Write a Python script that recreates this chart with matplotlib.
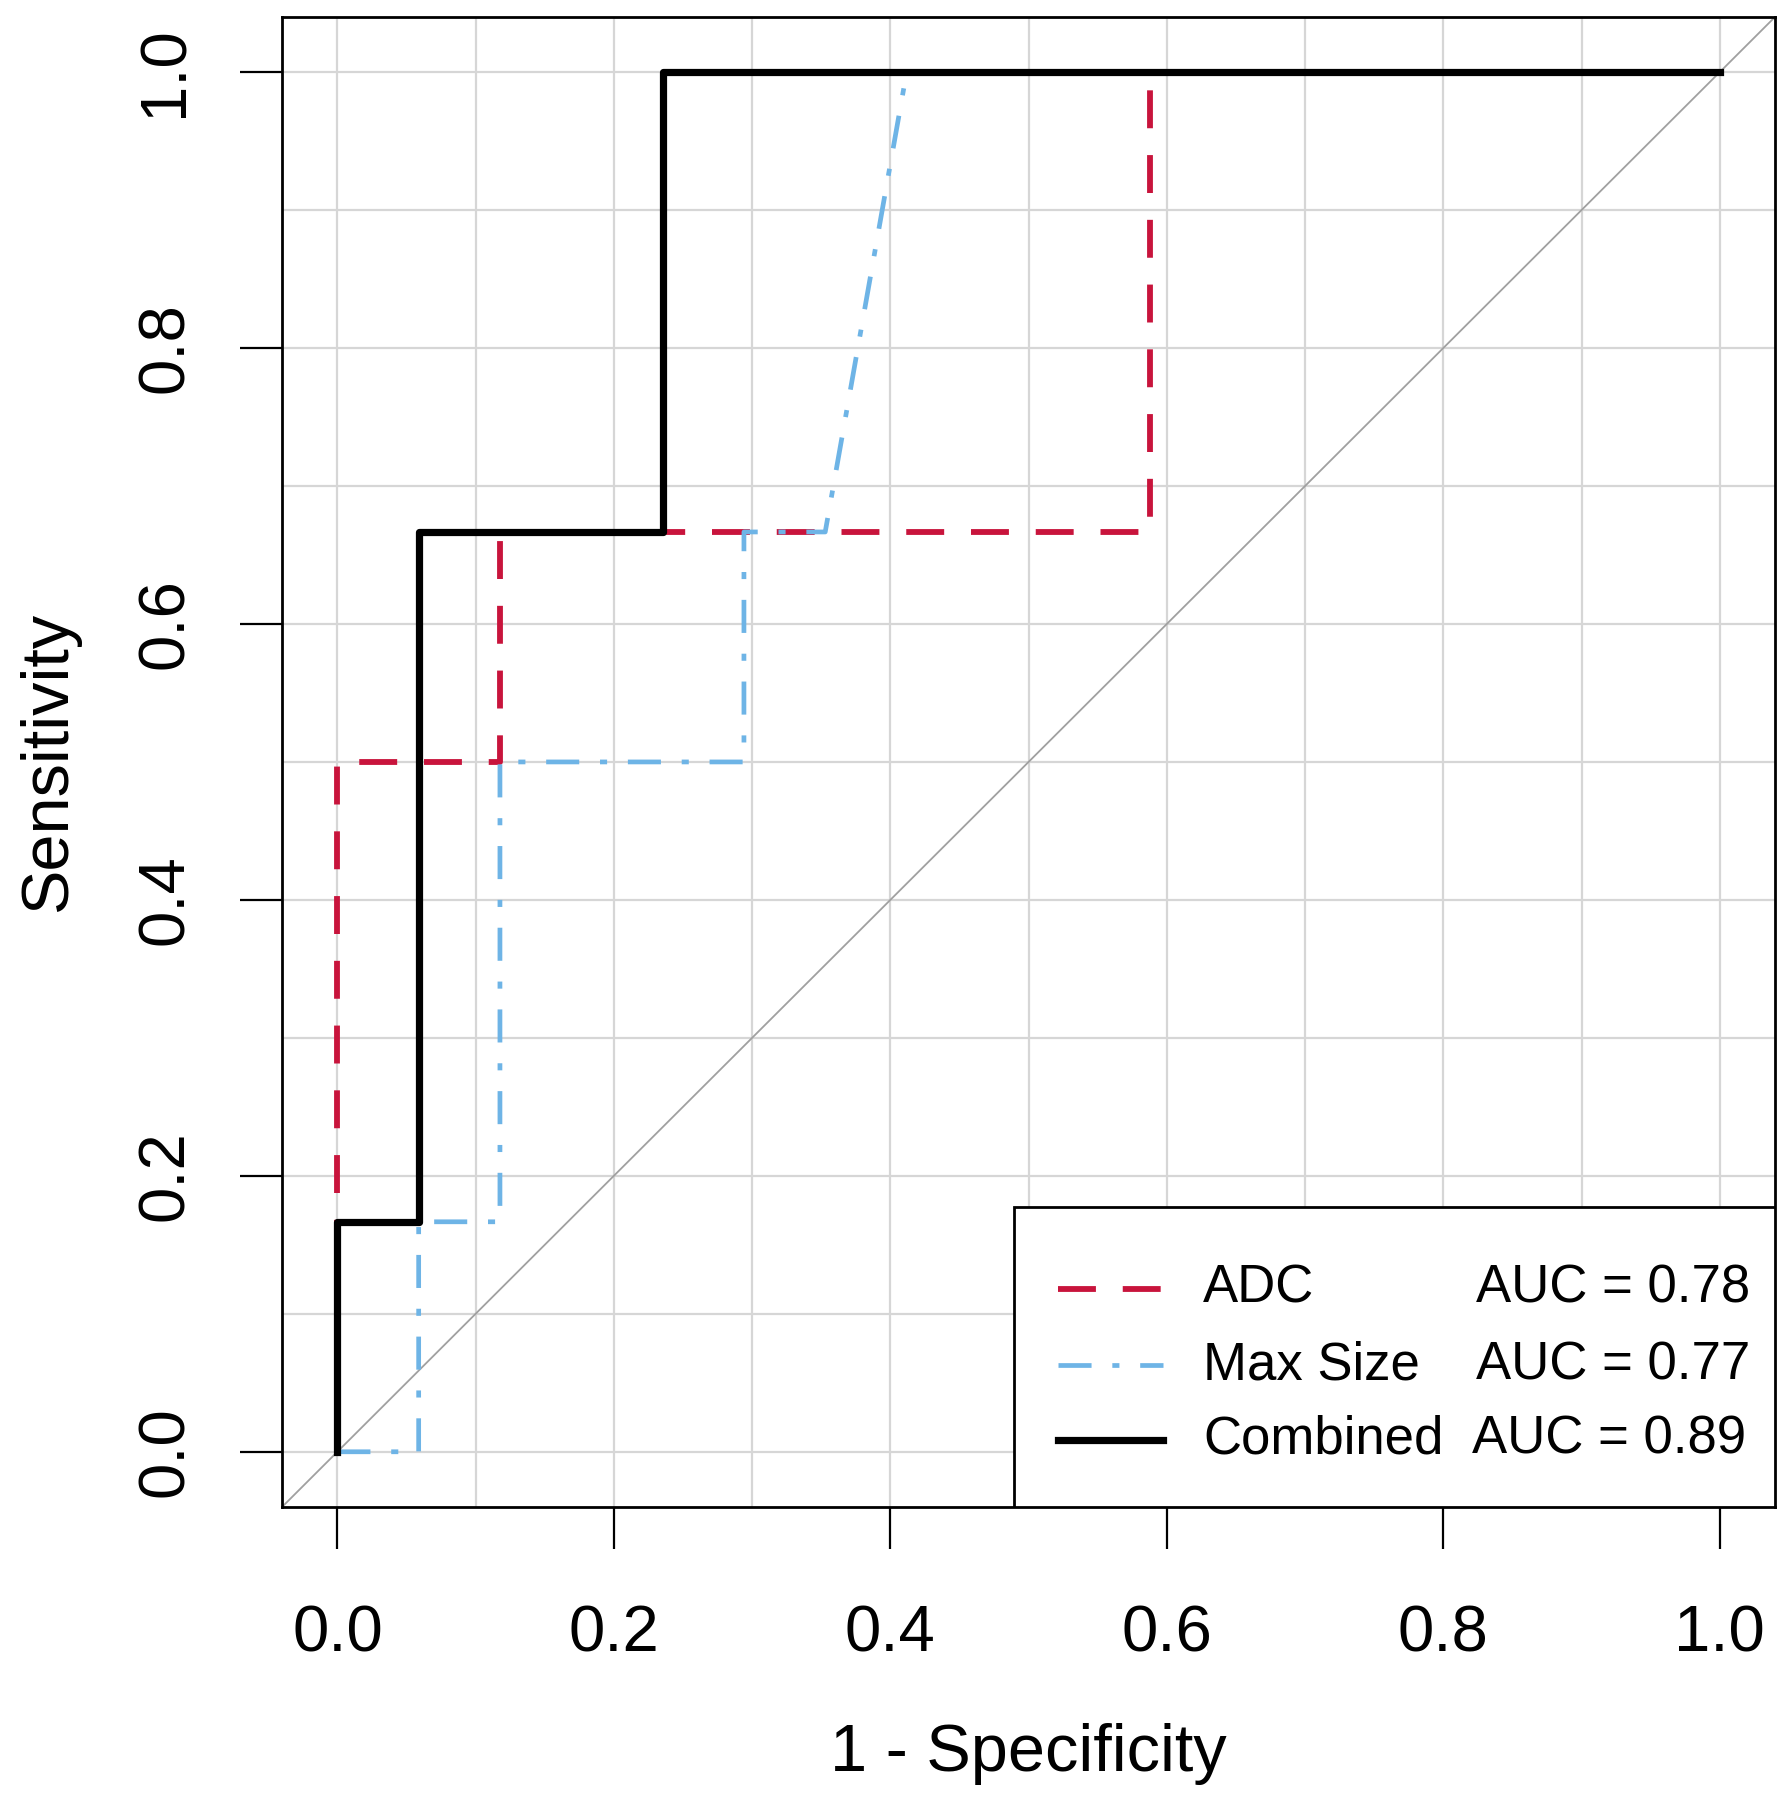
import matplotlib
matplotlib.use("Agg")
import matplotlib.pyplot as plt
from matplotlib.lines import Line2D
from matplotlib.patches import Rectangle

plt.rcParams['font.family'] = ['Liberation Sans', 'DejaVu Sans']

# ROC curves (x = 1 - specificity, y = sensitivity)
adc_fpr = [0.0, 0.0, 0.1176, 0.1176, 0.5882, 0.5882, 1.0]
adc_tpr = [0.0, 0.5, 0.5, 0.6667, 0.6667, 1.0, 1.0]

size_fpr = [0.0, 0.0588, 0.0588, 0.1176, 0.1176, 0.2941, 0.2941, 0.3529, 0.4118, 1.0]
size_tpr = [0.0, 0.0, 0.1667, 0.1667, 0.5, 0.5, 0.6667, 0.6667, 1.0, 1.0]

comb_fpr = [0.0, 0.0, 0.0588, 0.0588, 0.2353, 0.2353, 1.0]
comb_tpr = [0.0, 0.1667, 0.1667, 0.6667, 0.6667, 1.0, 1.0]

names = ["ADC", "Max Size", "Combined"]
aucs = [0.78, 0.77, 0.89]
colors = ["#C8143C", "#6EB4E6", "black"]

ticks = [0.0, 0.2, 0.4, 0.6, 0.8, 1.0]
grid_ticks = [i / 10 for i in range(11)]

fig = plt.figure(figsize=(17.91, 18.0), dpi=100)
ax = fig.add_axes([0.1575, 0.1628, 0.8336, 0.8278])
ax.set_xlim(-0.04, 1.04)
ax.set_ylim(-0.04, 1.04)

ax.set_xticks(ticks)
ax.set_yticks(ticks)
ax.set_xticks(grid_ticks, minor=True)
ax.set_yticks(grid_ticks, minor=True)
ax.set_xticklabels([f"{t:.1f}" for t in ticks])
ax.set_yticklabels([f"{t:.1f}" for t in ticks])
ax.grid(True, which='both', color='#D6D6D6', lw=1.6, zorder=0)
ax.set_axisbelow(True)
ax.tick_params(which='major', length=30, width=1.6, labelsize=47)
ax.tick_params(axis='x', pad=40)
ax.tick_params(axis='y', pad=32, labelrotation=90)
ax.tick_params(which='minor', length=0)
for lab in ax.get_yticklabels():
    lab.set_va('center')
for sp in ax.spines.values():
    sp.set_linewidth(2)

# chance diagonal across the whole plot
ax.axline((0, 0), (1, 1), color='#A0A0A0', lw=1.3, zorder=1)

styles = [dict(ls=(0, (6.5, 4.6)), lw=4.2),
          dict(ls=(0, (7, 4.4, 1.5, 4.4)), lw=3.4),
          dict(ls='-', lw=5.2)]
curves = [(adc_fpr, adc_tpr), (size_fpr, size_tpr), (comb_fpr, comb_tpr)]
for (fx, ty), c, st in zip(curves, colors, styles):
    ax.plot(fx, ty, color=c, zorder=3, **st)

ax.set_xlabel("1 - Specificity", fontsize=48, labelpad=42)
ax.set_ylabel("Sensitivity", fontsize=48, labelpad=40)

# legend box in the lower right corner
ax.add_patch(Rectangle((0.49, 0.0), 0.51, 0.201, transform=ax.transAxes,
                       facecolor='white', edgecolor='black', lw=2, zorder=5))
rows_y = [0.1465, 0.095, 0.045]
auc_x = [0.800, 0.800, 0.797]
for name, auc, c, st, y, ax_x in zip(names, aucs, colors, styles, rows_y, auc_x):
    ax.add_line(Line2D([0.520, 0.590], [y, y], transform=ax.transAxes,
                       color=c, zorder=6, **st))
    ax.text(0.617, y, name, transform=ax.transAxes, fontsize=38,
            va='center', ha='left', zorder=6)
    ax.text(ax_x, y, f"AUC = {auc:.2f}", transform=ax.transAxes, fontsize=38,
            va='center', ha='left', zorder=6)

fig.savefig("out.png", dpi=100)
